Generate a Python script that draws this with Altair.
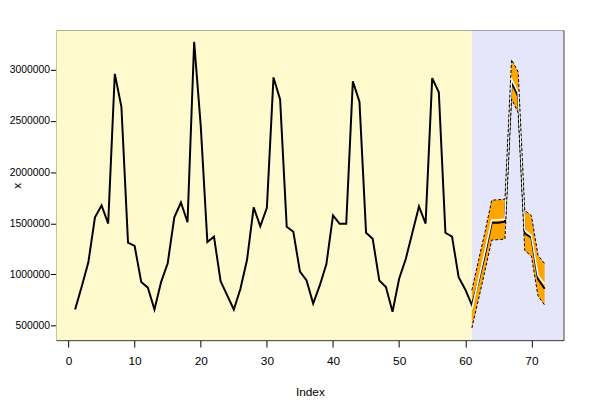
import altair as alt
import pandas as pd

# ---- data ----
index = list(range(1, 73))
actual = [657000, 882000, 1118000, 1558000, 1674000, 1497000, 2961000, 2639000,
          1311000, 1278000, 925000, 870000, 657000, 925000, 1108000, 1558000,
          1703000, 1510000, 3273000, 2450000, 1317000, 1369000, 934000, 795000,
          657000, 860000, 1143000, 1655000, 1471000, 1650000, 2926000, 2710000,
          1465000, 1417000, 1027000, 940000, 715000, 892000, 1101000, 1577000,
          1494000, 1494000, 2887000, 2688000, 1407000, 1349000, 940000, 876000,
          635000, 957000, 1150000, 1407000, 1664000, 1497000, 2919000, 2781000,
          1407000, 1369000, 973000, 853000, 700000, 930000, 1200000, 1505000,
          1505000, 1515000, 2880000, 2740000, 1400000, 1360000, 955000, 860000]

fc_index = list(range(61, 73))
forecast = [660000, 945000, 1230000, 1530000, 1535000, 1540000, 2910000, 2780000,
            1430000, 1380000, 990000, 905000]
lower = [475000, 755000, 1040000, 1335000, 1340000, 1345000, 2715000, 2580000,
         1232000, 1180000, 790000, 700000]
upper = [845000, 1135000, 1420000, 1725000, 1730000, 1735000, 3100000, 2980000,
         1625000, 1575000, 1188000, 1105000]

bg_start = [-1.84, 61]
bg_end = [61, 74.84]
bg_fill = ["#FFFACD", "#E6E6FA"]

x_ticks = [0, 10, 20, 30, 40, 50, 60, 70]
y_ticks = [500000, 1000000, 1500000, 2000000, 2500000, 3000000]

# ---- tables ----
df = pd.DataFrame({"Index": index, "x": actual})
fc = pd.DataFrame({"Index": fc_index, "f": forecast, "lo": lower, "hi": upper})
bg = pd.DataFrame({"x0": bg_start, "x1": bg_end, "fill": bg_fill})

W, H = 514, 314
FONT = "Liberation Sans"

xscale = alt.Scale(domain=[-1.84, 74.84], nice=False, zero=False)
yscale = alt.Scale(domain=[357000, 3386000], nice=False, zero=False)

xaxis = alt.Axis(values=x_ticks, title="Index", grid=False, domain=False,
                 tickColor="black", tickSize=7, tickWidth=1,
                 labelFont=FONT, labelFontSize=12, labelColor="black",
                 labelPadding=9, labelFlush=False,
                 titleFont=FONT, titleFontSize=12, titleFontWeight="normal",
                 titleColor="black", titleY=52, titleBaseline="middle")
yaxis = alt.Axis(values=y_ticks, format="d", title="x", grid=False, domain=False,
                 tickColor="black", tickSize=6, tickWidth=1,
                 labelFont=FONT, labelFontSize=10.5, labelColor="black",
                 labelPadding=1, labelFlush=False,
                 titleFont=FONT, titleFontSize=12, titleFontWeight="normal",
                 titleColor="black", titleX=-40, titleY=H / 2, titleAngle=270,
                 titleAlign="center", titleBaseline="middle")

background = alt.Chart(bg).mark_rect().encode(
    x=alt.X("x0:Q", scale=xscale, axis=xaxis),
    x2="x1:Q",
    y=alt.value(0),
    y2=alt.value(H),
    color=alt.Color("fill:N", scale=None),
)

band = alt.Chart(fc).mark_area(color="#FFA500", opacity=1).encode(
    x=alt.X("Index:Q", scale=xscale),
    y=alt.Y("lo:Q", scale=yscale, axis=yaxis),
    y2="hi:Q",
)

actual_line = alt.Chart(df).mark_line(color="black", strokeWidth=2).encode(
    x=alt.X("Index:Q", scale=xscale),
    y=alt.Y("x:Q", scale=yscale),
)

fc_line = alt.Chart(fc).mark_line(color="white", strokeWidth=1.6).encode(
    x=alt.X("Index:Q", scale=xscale),
    y=alt.Y("f:Q", scale=yscale),
)

lo_line = alt.Chart(fc).mark_line(color="black", strokeWidth=1, strokeDash=[3, 2]).encode(
    x=alt.X("Index:Q", scale=xscale),
    y=alt.Y("lo:Q", scale=yscale),
)
hi_line = alt.Chart(fc).mark_line(color="black", strokeWidth=1, strokeDash=[3, 2]).encode(
    x=alt.X("Index:Q", scale=xscale),
    y=alt.Y("hi:Q", scale=yscale),
)

chart = alt.layer(background, band, actual_line, fc_line, lo_line, hi_line).properties(
    width=W, height=H,
    autosize=alt.AutoSizeParams(type="none"),
    padding={"left": 49, "top": 20, "right": 29, "bottom": 58},
    background="white",
).configure_view(stroke="black", strokeWidth=1)

chart.save("out.html", embed_options={"renderer": "svg", "actions": False})
